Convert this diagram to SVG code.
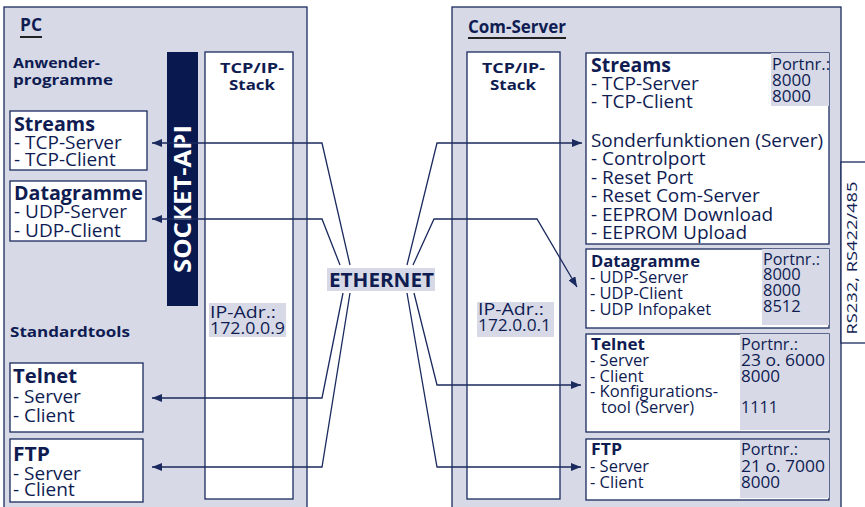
<svg xmlns="http://www.w3.org/2000/svg" width="865" height="507" viewBox="0 0 865 507">
  <style>
    .panel { fill: #d7d9e6; stroke: #1b2a5e; stroke-width: 1.3; }
    .box { fill: #ffffff; stroke: #1b2a5e; stroke-width: 1.3; }
    .hl { fill: #d7d9e6; }
    .t { font-family: "Open Sans", "Liberation Sans", sans-serif; fill: #0f1c52; }
    .b { font-weight: bold; }
    .s19 { font-size: 19px; }
    .s17 { font-size: 17px; }
    .s16 { font-size: 16.5px; }
    .s15 { font-size: 15px; }
    .ul { stroke: #222222; stroke-width: 2; }
    .conn { fill: none; stroke: #1b2a5e; stroke-width: 1.3; }
  </style>
  <defs>
    <marker id="arrow" markerUnits="userSpaceOnUse" markerWidth="10" markerHeight="8" refX="10" refY="4" orient="auto">
      <path d="M0,0 L10,4 L0,8 z" fill="#1b2a5e"/>
    </marker>
  </defs>

  <rect width="865" height="507" fill="#ffffff"/>

  <!-- PC side -->
  <g id="pc">
    <rect class="panel" x="4" y="7" width="303" height="520"/>
    <text class="t b s17" x="20" y="31" textLength="22" lengthAdjust="spacingAndGlyphs">PC</text>
    <line class="ul" x1="20" y1="37" x2="42" y2="37"/>
    <text class="t b s15" x="13" y="68" textLength="87" lengthAdjust="spacingAndGlyphs">Anwender-</text>
    <text class="t b s15" x="13" y="85" textLength="100" lengthAdjust="spacingAndGlyphs">programme</text>
    <text class="t b s15" x="10" y="337" textLength="120" lengthAdjust="spacingAndGlyphs">Standardtools</text>
  </g>

  <g id="socket-api">
    <rect x="167" y="52" width="31" height="254" fill="#0a1850"/>
    <text class="b" x="0" y="0" font-family="'Open Sans','Liberation Sans',sans-serif" font-size="24" fill="#ffffff" text-anchor="middle" transform="translate(191,199) rotate(-90)" textLength="148" lengthAdjust="spacingAndGlyphs">SOCKET-API</text>
  </g>

  <g id="pc-stack">
    <rect class="box" x="205" y="52" width="88" height="447"/>
    <text class="t b s15" x="220" y="73" textLength="64" lengthAdjust="spacingAndGlyphs">TCP/IP-</text>
    <text class="t b s15" x="229" y="90" textLength="46" lengthAdjust="spacingAndGlyphs">Stack</text>
    <rect class="hl" x="209" y="303" width="77" height="34"/>
    <text class="t s17" x="210" y="318" textLength="66" lengthAdjust="spacingAndGlyphs">IP-Adr.:</text>
    <text class="t s17" x="210" y="334" textLength="75" lengthAdjust="spacingAndGlyphs">172.0.0.9</text>
  </g>

  <g id="pc-streams">
    <rect class="box" x="10" y="111" width="137" height="59"/>
    <text class="t b s19" x="14" y="131" textLength="81" lengthAdjust="spacingAndGlyphs">Streams</text>
    <text class="t s19" x="14" y="149">- TCP-Server</text>
    <text class="t s19" x="14" y="166">- TCP-Client</text>
  </g>

  <g id="pc-datagramme">
    <rect class="box" x="10" y="181" width="136" height="60"/>
    <text class="t b s19" x="14" y="200" textLength="129" lengthAdjust="spacingAndGlyphs">Datagramme</text>
    <text class="t s19" x="14" y="218">- UDP-Server</text>
    <text class="t s19" x="14" y="237">- UDP-Client</text>
  </g>

  <g id="pc-telnet">
    <rect class="box" x="10" y="363" width="133" height="69"/>
    <text class="t b s19" x="13" y="383" textLength="64" lengthAdjust="spacingAndGlyphs">Telnet</text>
    <text class="t s19" x="13" y="403">- Server</text>
    <text class="t s19" x="13" y="422">- Client</text>
  </g>

  <g id="pc-ftp">
    <rect class="box" x="10" y="439" width="133" height="63"/>
    <text class="t b s19" x="13" y="461" textLength="37" lengthAdjust="spacingAndGlyphs">FTP</text>
    <text class="t s19" x="13" y="480">- Server</text>
    <text class="t s19" x="13" y="496">- Client</text>
  </g>

  <!-- Com-Server side -->
  <g id="com-server">
    <rect class="panel" x="452" y="7" width="389" height="520"/>
    <text class="t b s17" x="468" y="33" textLength="98" lengthAdjust="spacingAndGlyphs">Com-Server</text>
    <line class="ul" x1="468" y1="38" x2="566" y2="38"/>
  </g>

  <g id="rs232">
    <rect class="box" x="841" y="162" width="40" height="181"/>
    <text class="t s15" x="0" y="0" text-anchor="middle" transform="translate(857,258) rotate(-90)" textLength="153" lengthAdjust="spacingAndGlyphs">RS232, RS422/485</text>
  </g>

  <g id="com-stack">
    <rect class="box" x="467" y="52" width="93" height="447"/>
    <text class="t b s15" x="482" y="73" textLength="63" lengthAdjust="spacingAndGlyphs">TCP/IP-</text>
    <text class="t b s15" x="490" y="90" textLength="46" lengthAdjust="spacingAndGlyphs">Stack</text>
    <rect class="hl" x="477" y="302" width="77" height="35"/>
    <text class="t s17" x="478" y="315" textLength="66" lengthAdjust="spacingAndGlyphs">IP-Adr.:</text>
    <text class="t s17" x="478" y="331" textLength="73" lengthAdjust="spacingAndGlyphs">172.0.0.1</text>
  </g>

  <g id="com-streams">
    <rect class="box" x="586" y="53" width="243" height="191"/>
    <rect class="hl" x="771" y="53" width="58" height="53"/>
    <text class="t b s19" x="591" y="72" textLength="80" lengthAdjust="spacingAndGlyphs">Streams</text>
    <text class="t s19" x="591" y="90">- TCP-Server</text>
    <text class="t s19" x="591" y="108">- TCP-Client</text>
    <text class="t s17" x="772" y="70" textLength="58" lengthAdjust="spacingAndGlyphs">Portnr.:</text>
    <text class="t s17" x="772" y="86">8000</text>
    <text class="t s17" x="772" y="102">8000</text>
    <text class="t s19" x="591" y="147" textLength="232" lengthAdjust="spacingAndGlyphs">Sonderfunktionen (Server)</text>
    <text class="t s19" x="591" y="165">- Controlport</text>
    <text class="t s19" x="591" y="184">- Reset Port</text>
    <text class="t s19" x="591" y="202">- Reset Com-Server</text>
    <text class="t s19" x="591" y="221">- EEPROM Download</text>
    <text class="t s19" x="591" y="239">- EEPROM Upload</text>
  </g>

  <g id="com-datagramme">
    <rect class="box" x="586" y="249" width="243" height="79"/>
    <rect class="hl" x="762" y="249" width="67" height="76"/>
    <text class="t b s16" x="591" y="267" textLength="109" lengthAdjust="spacingAndGlyphs">Datagramme</text>
    <text class="t s16" x="590" y="283">- UDP-Server</text>
    <text class="t s16" x="590" y="299">- UDP-Client</text>
    <text class="t s16" x="590" y="315">- UDP Infopaket</text>
    <text class="t s16" x="763" y="265" textLength="57" lengthAdjust="spacingAndGlyphs">Portnr.:</text>
    <text class="t s16" x="763" y="280">8000</text>
    <text class="t s16" x="763" y="296">8000</text>
    <text class="t s16" x="763" y="312">8512</text>
  </g>

  <g id="com-telnet">
    <rect class="box" x="586" y="334" width="243" height="98"/>
    <rect class="hl" x="740" y="334" width="89" height="96"/>
    <text class="t b s16" x="591" y="350" textLength="54" lengthAdjust="spacingAndGlyphs">Telnet</text>
    <text class="t s16" x="590" y="366">- Server</text>
    <text class="t s16" x="590" y="382">- Client</text>
    <text class="t s16" x="590" y="397" textLength="128" lengthAdjust="spacingAndGlyphs">- Konfigurations-</text>
    <text class="t s16" x="601" y="413">tool (Server)</text>
    <text class="t s16" x="741" y="350" textLength="57" lengthAdjust="spacingAndGlyphs">Portnr.:</text>
    <text class="t s16" x="741" y="366" textLength="84" lengthAdjust="spacingAndGlyphs">23 o. 6000</text>
    <text class="t s16" x="741" y="382" textLength="39" lengthAdjust="spacingAndGlyphs">8000</text>
    <text class="t s16" x="741" y="413" textLength="37" lengthAdjust="spacingAndGlyphs">1111</text>
  </g>

  <g id="com-ftp">
    <rect class="box" x="586" y="439" width="243" height="61"/>
    <rect class="hl" x="740" y="440" width="89" height="58"/>
    <text class="t b s16" x="591" y="455" textLength="31" lengthAdjust="spacingAndGlyphs">FTP</text>
    <text class="t s16" x="590" y="472">- Server</text>
    <text class="t s16" x="590" y="488">- Client</text>
    <text class="t s16" x="741" y="455" textLength="57" lengthAdjust="spacingAndGlyphs">Portnr.:</text>
    <text class="t s16" x="741" y="472" textLength="84" lengthAdjust="spacingAndGlyphs">21 o. 7000</text>
    <text class="t s16" x="741" y="488" textLength="39" lengthAdjust="spacingAndGlyphs">8000</text>
  </g>

  <g id="ethernet">
    <rect class="hl" x="327" y="268" width="108" height="23"/>
    <text class="t b s19" x="329" y="287" textLength="105" lengthAdjust="spacingAndGlyphs">ETHERNET</text>
  </g>

  <!-- network links, fanning out from the Ethernet label -->
  <g id="connectors">
    <path class="conn" marker-end="url(#arrow)" d="M350,265 L322,143 L152,143"/>
    <path class="conn" marker-end="url(#arrow)" d="M340,265 L322,219 L152,219"/>
    <path class="conn" marker-end="url(#arrow)" d="M343,293 L322,398 L152,398"/>
    <path class="conn" marker-end="url(#arrow)" d="M350,293 L322,467 L152,467"/>
    <path class="conn" marker-end="url(#arrow)" d="M407,265 L437,143 L582,143"/>
    <path class="conn" marker-end="url(#arrow)" d="M413,265 L434,219 L537,219 L577,287"/>
    <path class="conn" marker-end="url(#arrow)" d="M414,293 L437,385 L581,385"/>
    <path class="conn" marker-end="url(#arrow)" d="M407,293 L437,467 L581,467"/>
  </g>
</svg>
